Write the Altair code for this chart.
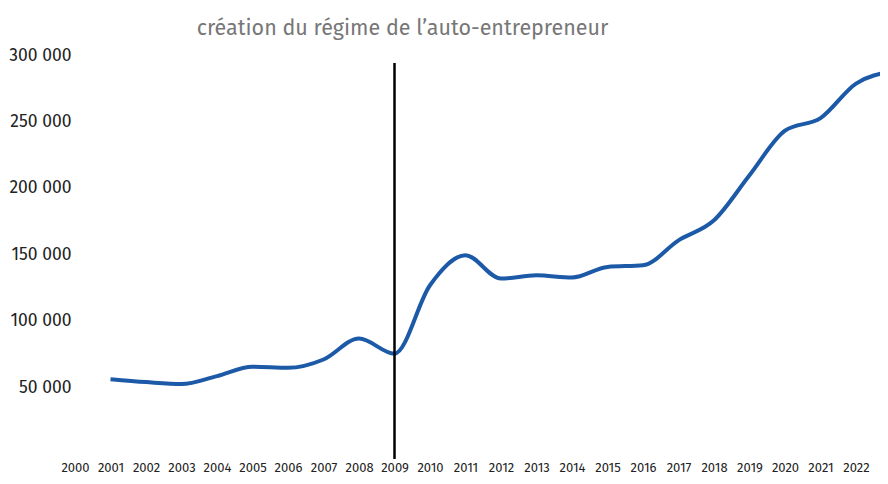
import altair as alt
import pandas as pd

# ---- data ----
years = list(range(2001, 2024))
values = [56000, 53800, 52300, 58300, 65300, 64500, 70800, 86600, 75200,
          126700, 149200, 131700, 134200, 132500, 140500, 141700, 160500,
          175600, 209500, 243000, 252500, 278500, 287500]
tick_years = list(range(2000, 2023))
y_ticks = [50000, 100000, 150000, 200000, 250000, 300000]
event_year = [2009]
event_top = [294000]
y_domain = [-4100, 300000]
x_domain = [2000, 2022.676]
title_text = "création du régime de l’auto-entrepreneur"

FONT = "Fira Sans, Open Sans, sans-serif"

df = pd.DataFrame({"year": years, "value": values})
ev = pd.DataFrame({"year": event_year, "top": event_top, "bottom": [y_domain[0]]})

x_scale = alt.Scale(domain=x_domain, nice=False, zero=False)
y_scale = alt.Scale(domain=y_domain, nice=False, zero=False)

x_axis = alt.Axis(values=tick_years, format="d", labelFontSize=13,
                  labelFont=FONT, labelColor="#222", labelPadding=12,
                  labelBaseline="alphabetic", ticks=False, tickSize=0,
                  domain=False, grid=False, labelOverlap=False,
                  labelFlush=False, title=None)
y_axis = alt.Axis(values=y_ticks, labelFontSize=17.5, labelFont=FONT,
                  labelColor="#222", labelPadding=4, ticks=False, tickSize=0,
                  domain=False, grid=False, labelOverlap=False, title=None,
                  labelExpr="replace(format(datum.value, ','), ',', ' ')")

line = alt.Chart(df).mark_line(
    color="#1c5aa8", strokeWidth=4, interpolate="monotone", clip=True
).encode(
    x=alt.X("year:Q", scale=x_scale, axis=x_axis),
    y=alt.Y("value:Q", scale=y_scale, axis=y_axis),
)

rule = alt.Chart(ev).mark_rule(color="#000", strokeWidth=2.5).encode(
    x=alt.X("year:Q", scale=x_scale, axis=x_axis),
    y=alt.Y("top:Q", scale=y_scale, axis=y_axis),
    y2="bottom:Q",
)

chart = alt.layer(line, rule).properties(
    width=805,
    height=404,
    autosize=alt.AutoSizeParams(type="none"),
    padding={"left": 67, "top": 47, "right": 0, "bottom": 17},
    title=alt.TitleParams(title_text, anchor="middle", dx=-75, fontSize=21.5,
                          font=FONT, fontWeight="normal", color="#777",
                          offset=7),
).configure_view(stroke=None)

chart.save("out.html", embed_options={"renderer": "svg", "actions": False})
